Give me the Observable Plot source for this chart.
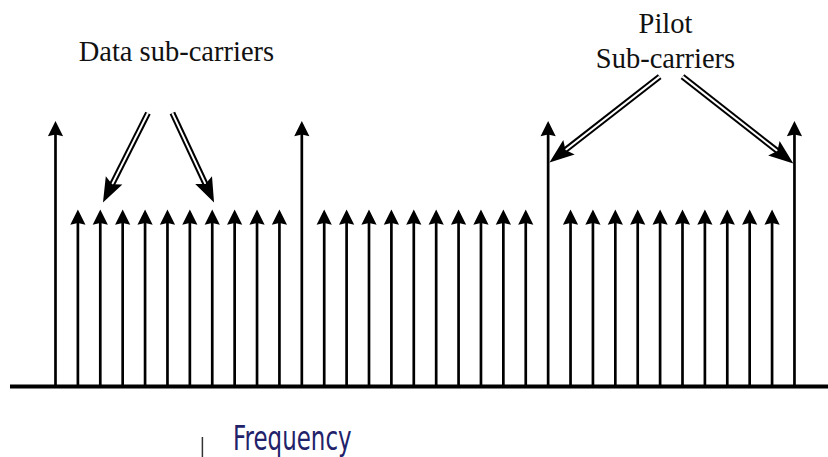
<!DOCTYPE html>
<html><head><meta charset="utf-8">
<script src="https://cdn.jsdelivr.net/npm/d3@7"></script>
<script src="https://cdn.jsdelivr.net/npm/@observablehq/plot@0.6"></script>
<style>html,body{margin:0;padding:0;background:#fff;} svg{display:block;}</style>
</head><body><div id="chart"></div>
<script>
// Sub-carrier positions (index along frequency) and amplitudes
const carrierIndex = [0,1,2,3,4,5,6,7,8,9,10,11,12,13,14,15,16,17,18,19,20,21,22,23,24,25,26,27,28,29,30,31,32,33];
const carrierAmplitude = [1.5,1,1,1,1,1,1,1,1,1,1,1.5,1,1,1,1,1,1,1,1,1,1,1.5,1,1,1,1,1,1,1,1,1,1,1.5];

// Annotation labels
const labelText = ["Data sub-carriers", "Pilot\nSub-carriers"];
const labelX = [5.40, 27.24];
const labelY = [1.842, 1.797];

// Annotation (double-line) arrows
const arrowStartX = [4.13, 5.22, 26.98, 28.0];
const arrowStartY = [1.545, 1.545, 1.751, 1.751];
const arrowTipX = [2.12, 7.08, 22.06, 32.95];
const arrowTipY = [1.040, 1.040, 1.266, 1.260];

// Axis label
const axisLabel = ["Frequency"];
const axisLabelX = [7.95];
const axisLabelY = [-0.362];
const tickX = [6.56];
const tickY1 = [-0.288];
const tickY2 = [-0.401];

const baselineX1 = -2.01;

const W = 828, H = 457;
const xDomain = [-2.456, 34.52];
const yDomain = [-0.401, 2.181];
const kx = W / (xDomain[1] - xDomain[0]);
const ky = H / (yDomain[1] - yDomain[0]);

function headShape(lenF, widF, notchF) {
  return {
    draw(ctx, size) {
      const r = Math.sqrt(size / Math.PI);
      const L = lenF * r, w = widF * r;
      ctx.moveTo(0, 0);
      ctx.lineTo(w, L);
      ctx.lineTo(0, L * notchF);
      ctx.lineTo(-w, L);
      ctx.closePath();
    }
  };
}
const carrierHead = headShape(2, 1, 0.88);
const annotHead = headShape(2.4, 0.9, 0.82);

const carriers = carrierIndex.map((x, i) => ({x, a: carrierAmplitude[i]}));
const labels = labelText.map((t, i) => ({t, x: labelX[i], y: labelY[i]}));

const headR = 10.3;
const arrows = arrowStartX.map((sx, i) => {
  const sy = arrowStartY[i], tx = arrowTipX[i], ty = arrowTipY[i];
  const dxp = (tx - sx) * kx, dyp = -(ty - sy) * ky;
  const len = Math.hypot(dxp, dyp);
  const ux = dxp / len, uy = dyp / len;
  const back = headR * 2.4 * 0.74;
  return {
    sx, sy, tx, ty,
    bx: tx - ux * back / kx,
    by: ty + uy * back / ky,
    rot: Math.atan2(dxp, -dyp) * 180 / Math.PI
  };
});

const plot = Plot.plot({
  width: W, height: H, margin: 0,
  x: {domain: xDomain, axis: null},
  y: {domain: yDomain, axis: null},
  marks: [
    Plot.ruleY([0], {x1: baselineX1, x2: xDomain[1], stroke: "black", strokeWidth: 4}),
    Plot.ruleX(carriers, {x: "x", y1: 0, y2: d => d.a - 4 / ky, stroke: "black", strokeWidth: 2.7}),
    Plot.dot(carriers, {x: "x", y: "a", symbol: carrierHead, r: 7.6, fill: "black", stroke: "none"}),
    Plot.link(arrows, {x1: "sx", y1: "sy", x2: "bx", y2: "by", stroke: "black", strokeWidth: 6}),
    Plot.link(arrows, {x1: "sx", y1: "sy", x2: "bx", y2: "by", stroke: "white", strokeWidth: 2}),
    Plot.dot(arrows, {x: "tx", y: "ty", rotate: "rot", symbol: annotHead, r: headR, fill: "black", stroke: "none"}),
    Plot.text(labels, {x: "x", y: "y", text: "t", fontFamily: "Liberation Serif, 'Times New Roman', serif", fontSize: 28.5, lineAnchor: "bottom", lineHeight: 1.23, fill: "#111"}),
    Plot.ruleX(tickX, {x: d => d, y1: tickY1[0], y2: tickY2[0], stroke: "#333", strokeWidth: 1.5}),
    Plot.text(axisLabel, {x: axisLabelX, y: axisLabelY, text: d => d, textAnchor: "start", lineAnchor: "bottom", className: "freq-label", fontFamily: "'DejaVu Sans', sans-serif", fontSize: 28, fill: "#22226a"})
  ]
});
// squeeze the axis label into a tall, condensed shape
{
  const px = plot.scale("x").apply(axisLabelX[0]);
  const py = plot.scale("y").apply(axisLabelY[0]);
  d3.select(plot).selectAll("g.freq-label").attr("transform", `translate(${px},${py}) scale(0.82,1.2) translate(${-px},${-py})`);
}
document.getElementById("chart").appendChild(plot);
</script>
</body></html>
